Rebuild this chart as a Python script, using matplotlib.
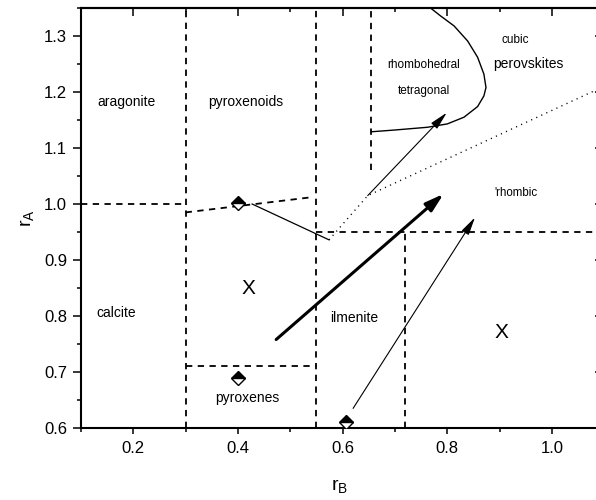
import matplotlib
matplotlib.use("Agg")
import matplotlib.pyplot as plt
from matplotlib.ticker import MultipleLocator

plt.rcParams['font.family'] = ['Liberation Sans', 'DejaVu Sans']
plt.rcParams['mathtext.fontset'] = 'custom'
plt.rcParams['mathtext.rm'] = 'Liberation Sans'
plt.rcParams['mathtext.it'] = 'Liberation Sans'

# --- structure-field boundaries (r_B, r_A) ---
bound_x03 = [0.30, 0.30]; bound_y03 = [0.60, 1.35]
bound_x055 = [0.55, 0.55]; bound_y055 = [0.60, 1.35]
bound_x065 = [0.655, 0.655]; bound_y065 = [1.06, 1.35]
bound_x072 = [0.72, 0.72]; bound_y072 = [0.60, 0.95]
arag_x = [0.10, 0.30]; arag_y = [1.00, 1.00]
pxoid_x = [0.30, 0.54]; pxoid_y = [0.985, 1.012]
ilm_x = [0.55, 1.09]; ilm_y = [0.95, 0.95]
pxene_x = [0.30, 0.55]; pxene_y = [0.711, 0.711]

# tetragonal / cubic border
tc_x = [0.655, 0.698, 0.762, 0.800, 0.832, 0.858, 0.870, 0.874, 0.870,
        0.858, 0.839, 0.813, 0.787, 0.768]
tc_y = [1.129, 1.132, 1.137, 1.143, 1.155, 1.174, 1.193, 1.208, 1.232,
        1.262, 1.291, 1.318, 1.336, 1.350]

# path from pyroxenoid point and its dotted continuation
path_x = [0.427, 0.574]; path_y = [1.000, 0.936]
dot_x = [0.574, 0.648, 1.09]; dot_y = [0.936, 1.015, 1.206]

# arrows: (start, end)
arrow_thin_up = ((0.648, 1.015), (0.799, 1.163))
arrow_bold = ((0.473, 0.758), (0.793, 1.018))
arrow_thin_low = ((0.620, 0.635), (0.853, 0.976))

# compounds
pt_x = [0.400, 0.400, 0.606]
pt_y = [1.001, 0.690, 0.610]

# field labels: text, x, y (baseline), size
labels = [
    ("aragonite", 0.187, 1.1755, 10),
    ("pyroxenoids", 0.415, 1.1755, 10),
    ("calcite", 0.168, 0.798, 10),
    ("pyroxenes", 0.417, 0.647, 10),
    ("ilmenite", 0.623, 0.789, 10),
    ("rhombohedral", 0.755, 1.2437, 8.5),
    ("tetragonal", 0.755, 1.196, 8.5),
    ("cubic", 0.930, 1.288, 8.5),
    ("perovskites", 0.955, 1.2437, 10),
    ("'rhombic", 0.9315, 1.0139, 8.3),
    ("X", 0.420, 0.840, 15),
    ("X", 0.903, 0.760, 15),
]

x_ticks = [0.2, 0.4, 0.6, 0.8, 1.0]
y_ticks = [0.6, 0.7, 0.8, 0.9, 1.0, 1.1, 1.2, 1.3]

fig = plt.figure(figsize=(5.96, 5.0), dpi=100)
ax = fig.add_axes([81 / 596, 72 / 500, 518 / 596, 420 / 500])
ax.set_xlim(0.1, 1.09)
ax.set_ylim(0.6, 1.35)

dash = dict(color='black', lw=1.3, dashes=(3.5, 3.0))
for xs, ys in [(bound_x03, bound_y03), (bound_x055, bound_y055),
               (bound_x065, bound_y065), (bound_x072, bound_y072),
               (arag_x, arag_y), (pxoid_x, pxoid_y), (ilm_x, ilm_y),
               (pxene_x, pxene_y)]:
    ax.plot(xs, ys, **dash)

ax.plot(tc_x, tc_y, color='black', lw=1.0)
ax.plot(path_x, path_y, color='black', lw=0.9)
ax.plot(dot_x, dot_y, color='black', lw=1.0, linestyle=(0, (0.8, 3.2)))

for (s, e), lw, hl, hw in [(arrow_thin_up, 0.8, 1.1, 0.25),
                           (arrow_bold, 2.2, 1.1, 0.33),
                           (arrow_thin_low, 0.8, 1.1, 0.25)]:
    ax.annotate('', xy=e, xytext=s,
                arrowprops=dict(arrowstyle=f'-|>,head_length={hl},head_width={hw}',
                                color='black', lw=lw, shrinkA=0, shrinkB=0,
                                mutation_scale=10))

ax.plot(pt_x, pt_y, linestyle='none', marker='D', markersize=7,
        fillstyle='top', markerfacecolor='black', markerfacecoloralt='white',
        markeredgecolor='black', markeredgewidth=1.0, zorder=5)

for txt, x, y, size in labels:
    ax.text(x, y, txt, ha='center', va='baseline', fontsize=size)

ax.set_xticks(x_ticks)
ax.set_xticklabels([f"{v:.1f}" for v in x_ticks])
ax.set_yticks(y_ticks)
ax.set_yticklabels([f"{v:.1f}" for v in y_ticks])
ax.xaxis.set_minor_locator(MultipleLocator(0.1))
ax.yaxis.set_minor_locator(MultipleLocator(0.05))

ax.tick_params(axis='x', which='major', direction='out', length=4.5, width=1.1,
               pad=5, labelsize=12, top=False)
ax.tick_params(axis='x', which='minor', direction='out', length=3, width=1.1, top=False)
ax.tick_params(axis='y', which='major', direction='out', length=6, width=1.1,
               pad=4, labelsize=12, right=False)
ax.tick_params(axis='y', which='minor', direction='out', length=3, width=1.1, right=False)

for sp in ax.spines.values():
    sp.set_linewidth(1.5)

# mirrored inward ticks on top and right
top = ax.secondary_xaxis('top')
top.set_xticks(x_ticks)
top.xaxis.set_minor_locator(MultipleLocator(0.1))
top.tick_params(which='major', direction='in', length=5.5, width=1.1, labeltop=False)
top.tick_params(which='minor', direction='in', length=3, width=1.1)
top.spines['top'].set_linewidth(1.5)
right = ax.secondary_yaxis('right')
right.set_yticks(y_ticks)
right.tick_params(which='major', direction='in', length=3, width=1.1, labelright=False)
right.spines['right'].set_linewidth(1.5)

ax.set_xlabel(r'$\mathrm{r_B}$', fontsize=14, labelpad=15)
ax.set_ylabel(r'$\mathrm{r_A}$', fontsize=14, labelpad=6)

fig.savefig('out.png', dpi=100)
